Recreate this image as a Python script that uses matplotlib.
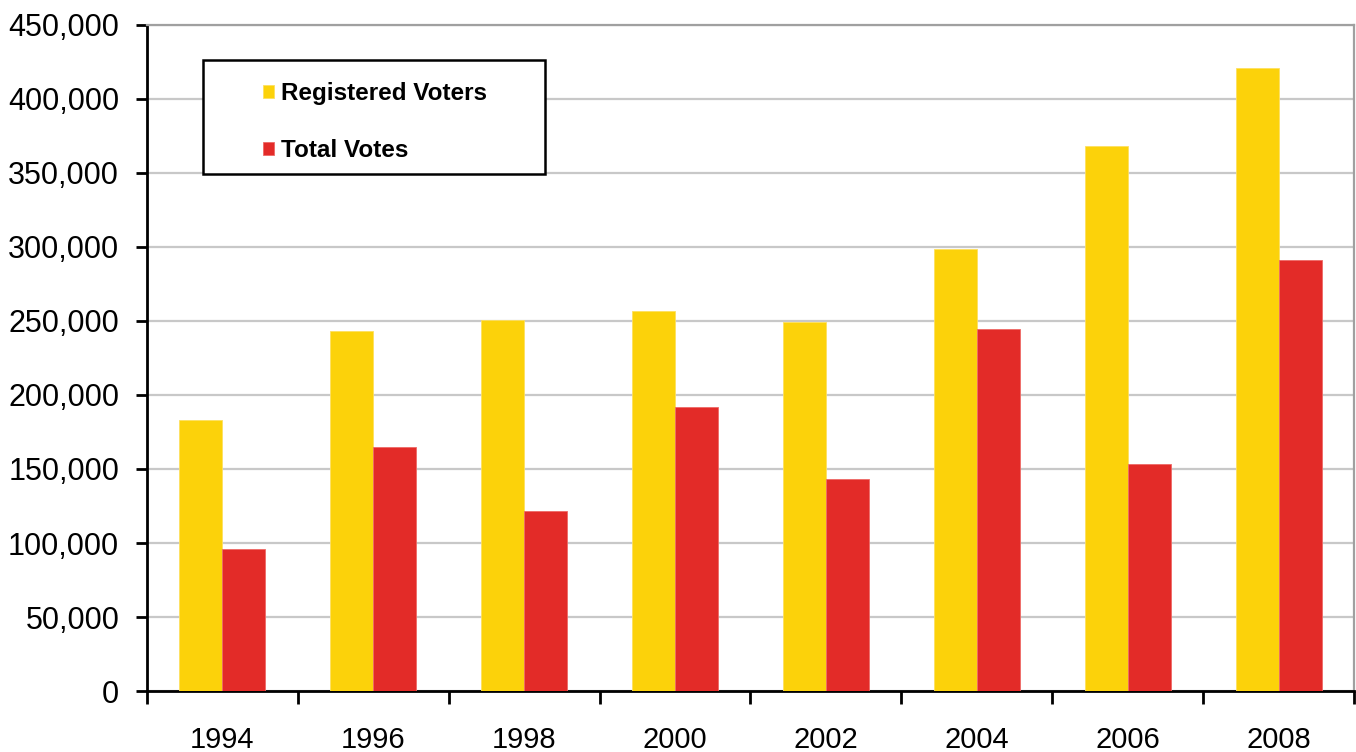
import numpy as np
import matplotlib.pyplot as plt
from matplotlib.patches import Rectangle
from matplotlib.ticker import FuncFormatter, FixedLocator

plt.rcParams['font.family'] = ['Liberation Sans', 'DejaVu Sans']

years = ['1994', '1996', '1998', '2000', '2002', '2004', '2006', '2008']
registered = [183400, 243000, 250700, 256700, 249600, 298300, 368200, 420900]
total_votes = [95800, 165100, 121900, 192200, 143500, 244600, 153700, 291400]

yellow = '#FCD20A'
red = '#E32B28'

fig = plt.figure(figsize=(13.56, 7.52), dpi=100)
ax = fig.add_axes([0.1084, 0.0811, 0.8901, 0.8857])

x = np.arange(len(years))
w = 0.285
ax.bar(x - w / 2, registered, w, color=yellow, edgecolor='#FDE060', linewidth=0.6,
       label='Registered Voters', zorder=3)
ax.bar(x + w / 2, total_votes, w, color=red, edgecolor='#EE6A66', linewidth=0.6,
       label='Total Votes', zorder=3)

ax.set_xlim(-0.5, len(years) - 0.5)
ax.set_ylim(0, 450000)
ax.set_yticks(np.arange(0, 450001, 50000))
ax.yaxis.set_major_formatter(FuncFormatter(lambda v, p: f'{int(v):,}'))
ax.grid(axis='y', color='#C8C8C8', linewidth=1.6, zorder=0)

# year labels centred, tick marks between groups
ax.set_xticks(x)
ax.set_xticklabels(years, fontsize=21)
ax.tick_params(axis='x', which='major', length=0, pad=25)
ax.xaxis.set_minor_locator(FixedLocator(np.arange(-0.5, len(years), 1.0)))
ax.tick_params(axis='x', which='minor', length=9, width=2, color='black', direction='out')
ax.tick_params(axis='y', labelsize=22, length=8, width=2, direction='out', pad=12)

for s in ['left', 'bottom']:
    ax.spines[s].set_color('black')
    ax.spines[s].set_linewidth(2)
for s in ['top', 'right']:
    ax.spines[s].set_color('#A0A0A0')
    ax.spines[s].set_linewidth(1.6)

# legend box
fig.patches.append(Rectangle((203 / 1356, 1 - 174 / 752), 342 / 1356, 114 / 752,
                             transform=fig.transFigure, facecolor='white',
                             edgecolor='black', linewidth=1.8, zorder=5))
leg = fig.legend(loc='upper left', bbox_to_anchor=(251 / 1356, 1 - 70 / 752),
                 frameon=False, prop={'weight': 'bold', 'size': 17.5},
                 handlelength=0.45, handleheight=0.45, handletextpad=0.3,
                 labelspacing=1.38, borderpad=0)
leg.set_zorder(6)

fig.savefig('out.png', dpi=100)
